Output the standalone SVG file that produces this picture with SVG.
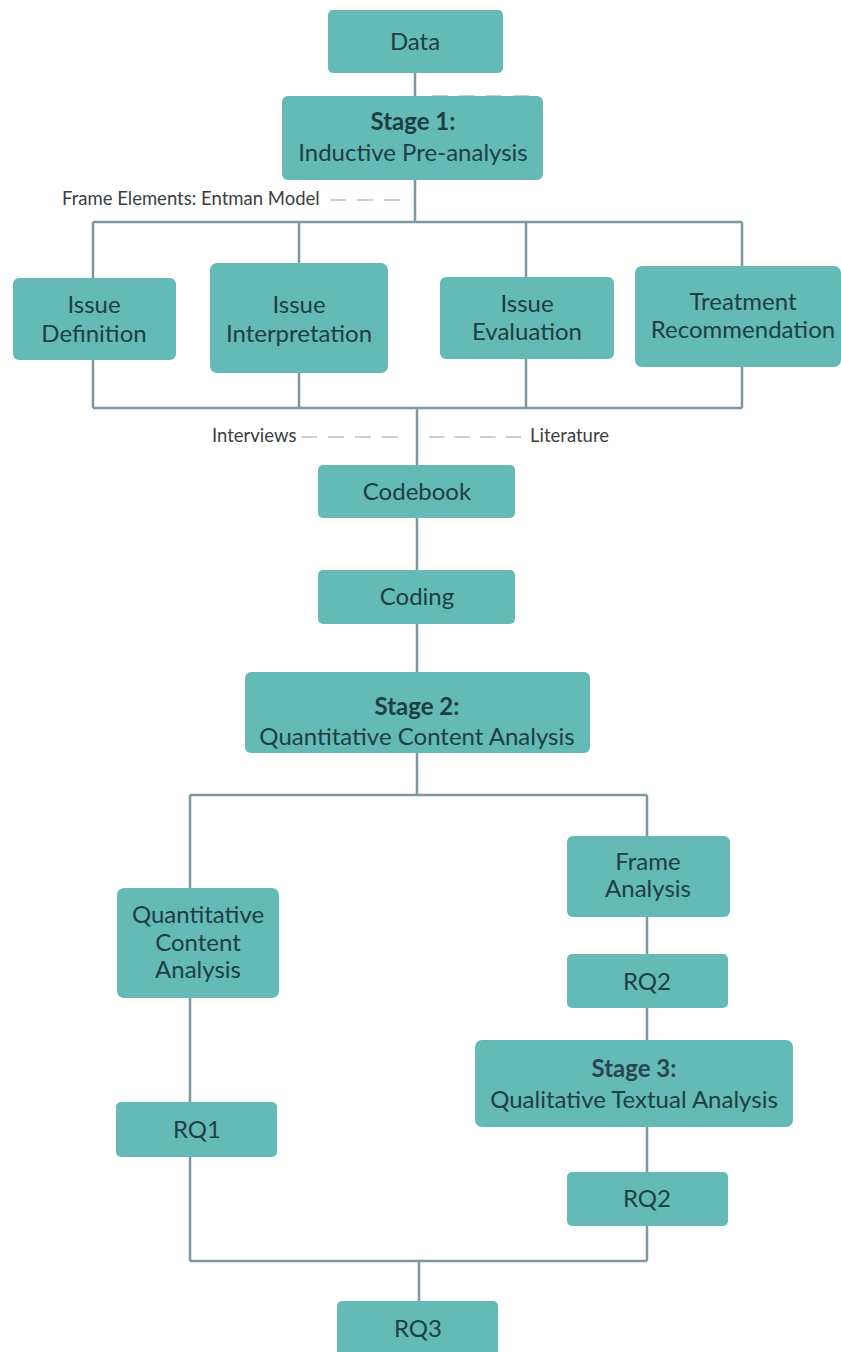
<svg xmlns="http://www.w3.org/2000/svg" width="841" height="1352" viewBox="0 0 841 1352">
<style>
.box{fill:#63bab7;stroke:none}
.t{font-family:Lato,"Open Sans","Liberation Sans",sans-serif;font-size:24px;fill:#1e3f42;text-anchor:middle}
.b{font-weight:bold}
.lbl{font-family:Lato,"Open Sans","Liberation Sans",sans-serif;font-size:18.5px;fill:#3a3f44}
.c{stroke:#7d98a1;stroke-width:2.5;fill:none}
.d{stroke:#cdd0d2;stroke-width:2;stroke-dasharray:16,11;fill:none}
</style>
<rect width="841" height="1352" fill="#ffffff"/>
<g id="connectors">
<path class="c" d="M415 73V96M415 180V222M93 222H742M93 222V278M299 222V263M526 222V277M742 222V266"/>
<path class="c" d="M93 360V408M299 373V408M526 359V408M742 366V408M93 408H742M417 408V465"/>
<path class="c" d="M417 518V570M417 624V672M417 753V795M190 795H647"/>
<path class="c" d="M190 795V888M190 998V1102M190 1157V1261M647 795V836M647 917V954M647 1008V1040M647 1127V1172M647 1226V1261M190 1261H647M419 1261V1301"/>
<path class="d" d="M432 96H530"/>
<path class="d" d="M330 200H400"/>
<path class="d" d="M301 437H398"/>
<path class="d" d="M429 437H524" style="stroke-dasharray:15.5,10"/>
</g>
<g id="labels">
<text class="lbl" x="62" y="205">Frame Elements: Entman Model</text>
<text class="lbl" x="212" y="442">Interviews</text>
<text class="lbl" x="530" y="442">Literature</text>
</g>
<g id="data"><rect class="box" x="328" y="10" width="175" height="63" rx="5"/><text class="t" x="415" y="50">Data</text></g>
<g id="stage1"><rect class="box" x="282" y="96" width="261" height="84" rx="6"/><text class="t b" x="413" y="130">Stage 1:</text><text class="t" x="413" y="161">Inductive Pre-analysis</text></g>
<g id="issue-definition"><rect class="box" x="13" y="278" width="163" height="82" rx="6"/><text class="t" x="94" y="313">Issue</text><text class="t" x="94" y="342">Definition</text></g>
<g id="issue-interpretation"><rect class="box" x="210" y="263" width="178" height="110" rx="7"/><text class="t" x="299" y="313">Issue</text><text class="t" x="299" y="342">Interpretation</text></g>
<g id="issue-evaluation"><rect class="box" x="440" y="277" width="174" height="82" rx="6"/><text class="t" x="527" y="312">Issue</text><text class="t" x="527" y="340">Evaluation</text></g>
<g id="treatment"><rect class="box" x="635" y="266" width="206" height="101" rx="7"/><text class="t" x="743" y="310">Treatment</text><text class="t" x="743" y="338">Recommendation</text></g>
<g id="codebook"><rect class="box" x="318" y="465" width="197" height="53" rx="5"/><text class="t" x="417" y="500">Codebook</text></g>
<g id="coding"><rect class="box" x="318" y="570" width="197" height="54" rx="5"/><text class="t" x="417" y="605">Coding</text></g>
<g id="stage2"><rect class="box" x="245" y="672" width="345" height="81" rx="6"/><text class="t b" x="417" y="715">Stage 2:</text><text class="t" x="417" y="745">Quantitative Content Analysis</text></g>
<g id="quant"><rect class="box" x="117" y="888" width="162" height="110" rx="7"/><text class="t" x="198" y="923">Quantitative</text><text class="t" x="198" y="951">Content</text><text class="t" x="198" y="978">Analysis</text></g>
<g id="frame-analysis"><rect class="box" x="567" y="836" width="163" height="81" rx="6"/><text class="t" x="648" y="870">Frame</text><text class="t" x="648" y="897">Analysis</text></g>
<g id="rq2a"><rect class="box" x="567" y="954" width="161" height="54" rx="5"/><text class="t" x="647" y="990">RQ2</text></g>
<g id="stage3"><rect class="box" x="475" y="1040" width="318" height="87" rx="7"/><text class="t b" x="634" y="1077" style="fill:#2b4452">Stage 3:</text><text class="t" x="634" y="1108">Qualitative Textual Analysis</text></g>
<g id="rq1"><rect class="box" x="116" y="1102" width="161" height="55" rx="5"/><text class="t" x="197" y="1138">RQ1</text></g>
<g id="rq2b"><rect class="box" x="567" y="1172" width="161" height="54" rx="5"/><text class="t" x="647" y="1207">RQ2</text></g>
<g id="rq3"><rect class="box" x="337" y="1301" width="161" height="55" rx="5"/><text class="t" x="418" y="1337">RQ3</text></g>
</svg>
